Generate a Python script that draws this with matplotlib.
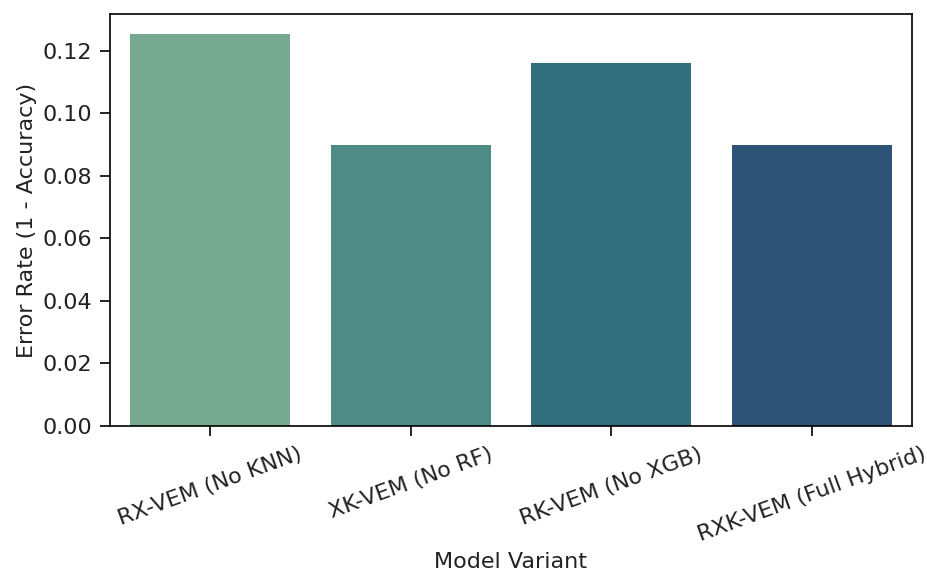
import matplotlib
matplotlib.use('Agg')
import matplotlib.pyplot as plt
import seaborn as sns

# Error rate per ablation variant
variants = ['RX-VEM (No KNN)', 'XK-VEM (No RF)', 'RK-VEM (No XGB)', 'RXK-VEM (Full Hybrid)']
error_rates = [0.1254, 0.0898, 0.1161, 0.0898]

fig = plt.figure(figsize=(9.28, 5.73), dpi=100)
ax = fig.add_axes([110 / 928, 1 - 426 / 573, (912 - 110) / 928, (426 - 14) / 573])

sns.barplot(x=variants, y=error_rates, hue=variants, palette='crest', legend=False, ax=ax)

fs = 16
ax.set_xlabel('Model Variant', fontsize=fs, labelpad=5, color='#222222')
ax.set_ylabel('Error Rate (1 - Accuracy)', fontsize=fs, labelpad=4, color='#222222')
ax.tick_params(axis='both', labelsize=fs, length=7, width=1.2, pad=6, labelcolor='#222222')
for s in ax.spines.values():
    s.set_linewidth(1.2)
plt.setp(ax.get_xticklabels(), rotation=20)

fig.savefig('out.png', dpi=100)
